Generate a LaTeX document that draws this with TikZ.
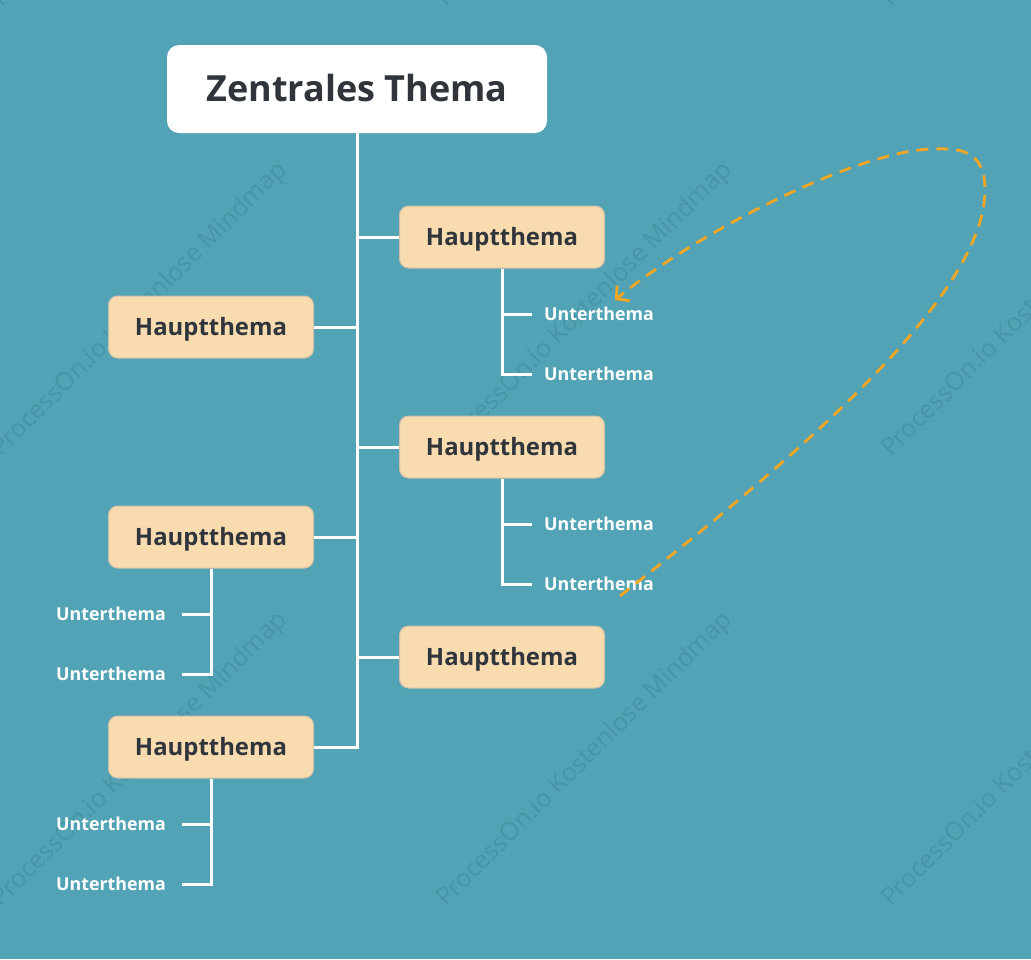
\documentclass[tikz,border=0pt]{standalone}
\usepackage{fontspec}
\setmainfont{Open Sans}
\usetikzlibrary{arrows.meta}
\definecolor{bg}{HTML}{52A3B5}
\definecolor{boxfill}{HTML}{F8DCB0}
\definecolor{boxline}{HTML}{CDBFA8}
\definecolor{txt}{HTML}{30343B}
\definecolor{curve}{HTML}{F5A623}
\definecolor{wm}{HTML}{4796A8}
\begin{document}
\begin{tikzpicture}[x=1pt,y=-1pt,
  central/.style={text height=25.7pt,text depth=0pt,fill=white,draw=none,rounded corners=12pt,minimum width=380pt,minimum height=88pt,
     font=\fontsize{36}{40}\selectfont\bfseries,text=txt,inner sep=0pt},
  mainbox/.style={text height=17.1pt,text depth=0pt,fill=boxfill,draw=boxline,line width=1pt,rounded corners=9pt,minimum width=205pt,minimum height=62pt,
     font=\fontsize{23.9}{27}\selectfont\bfseries,text=txt,inner sep=0pt},
  sublabel/.style={text height=12.7pt,text depth=0pt,font=\fontsize{17.8}{21}\selectfont\bfseries,text=white,inner sep=0pt},
  branch/.style={draw=white,line width=3pt},
  wmark/.style={font=\fontsize{25}{28}\selectfont,text=wm,rotate=45,inner sep=0pt}
]
\useasboundingbox (0,0) rectangle (1031,959);
\fill[bg] (0,0) rectangle (1031,959);
% watermarks
\foreach \wx in {140,585,1030}{
  \foreach \wy in {-140,310,760}{
    \node[wmark] at (\wx,\wy) {ProcessOn.io Kostenlose Mindmap};
  }
}
% nodes
\node[central] (c) at (357,89) {Zentrales Thema};
\node[mainbox] (r1) at (502,237) {Hauptthema};
\node[mainbox] (r2) at (502,447) {Hauptthema};
\node[mainbox] (r3) at (502,657) {Hauptthema};
\node[mainbox] (l1) at (211,327) {Hauptthema};
\node[mainbox] (l2) at (211,537) {Hauptthema};
\node[mainbox] (l3) at (211,747) {Hauptthema};
% sub labels
\node[sublabel,anchor=west] (r1a) at (544,314) {Unterthema};
\node[sublabel,anchor=west] (r1b) at (544,374) {Unterthema};
\node[sublabel,anchor=west] (r2a) at (544,524) {Unterthema};
\node[sublabel,anchor=west] (r2b) at (544,584) {Unterthema};
\node[sublabel,anchor=east] (l2a) at (166,614) {Unterthema};
\node[sublabel,anchor=east] (l2b) at (166,674) {Unterthema};
\node[sublabel,anchor=east] (l3a) at (166,824) {Unterthema};
\node[sublabel,anchor=east] (l3b) at (166,884) {Unterthema};
% trunk
\coordinate (tk) at (357,747);
\draw[branch] (c.south) -- (tk) -- (l3.east);
\draw[branch] (357,237) -- (r1.west);
\draw[branch] (357,447) -- (r2.west);
\draw[branch] (357,657) -- (r3.west);
\draw[branch] (l1.east) -- (357,327);
\draw[branch] (l2.east) -- (357,537);
% right subs
\draw[branch] (r1.south) -- (502,374) -- ([xshift=-12pt]r1b.west);
\draw[branch] (502,314) -- ([xshift=-12pt]r1a.west);
\draw[branch] (r2.south) -- (502,584) -- ([xshift=-12pt]r2b.west);
\draw[branch] (502,524) -- ([xshift=-12pt]r2a.west);
% left subs
\draw[branch] (l2.south) -- (211,674) -- ([xshift=16pt]l2b.east);
\draw[branch] (211,614) -- ([xshift=16pt]l2a.east);
\draw[branch] (l3.south) -- (211,884) -- ([xshift=16pt]l3b.east);
\draw[branch] (211,824) -- ([xshift=16pt]l3a.east);
% orange dashed curve
\coordinate (cs) at (620,596);
\coordinate (ce) at (615,300);
\draw[curve,line width=2.8pt,dash pattern=on 12pt off 8pt,-{Straight Barb[length=9pt,width=20pt,line width=2.8pt]}]
  (cs) .. controls (780,470) and (985,300) .. (985,190)
       .. controls (985,150) and (960,148) .. (933,149)
       .. controls (860,150) and (700,230) .. (ce);
\end{tikzpicture}
\end{document}
